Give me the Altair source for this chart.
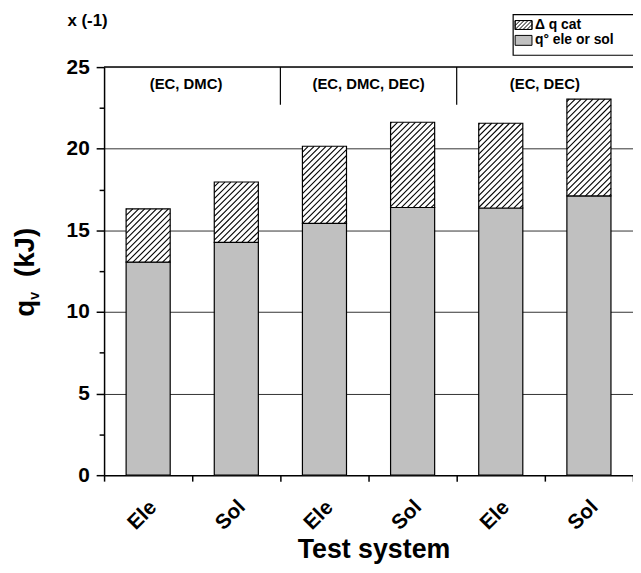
import math
import altair as alt
import pandas as pd

# ---- data ----
systems = ["Ele", "Sol", "Ele", "Sol", "Ele", "Sol"]
q_base = [13.05, 14.26, 15.43, 16.40, 16.37, 17.11]      # q° ele or sol
q_total = [16.32, 17.96, 20.15, 21.62, 21.56, 23.04]     # q° + Δq cat
groups = ["(EC, DMC)", "(EC, DMC, DEC)", "(EC, DEC)"]
group_centers = [0.93, 3.0, 5.0]
separators = [2, 4]
sep_bottom = 22.7
y_max = 25

W, H = 534, 412
sx = W / 6.0
sy = H / y_max
FONT = "Liberation Sans"

base_df = pd.DataFrame({
    "x": [i + 0.25 for i in range(6)],
    "x2": [i + 0.75 for i in range(6)],
    "y": [0.0] * 6,
    "y2": q_base,
})
cat_df = pd.DataFrame({
    "x": [i + 0.25 for i in range(6)],
    "x2": [i + 0.75 for i in range(6)],
    "y": q_base,
    "y2": q_total,
})
lab_df = pd.DataFrame({"x": [i + 0.5 for i in range(6)], "t": systems})

# hatch lines (45 degrees in pixel space) inside the Δq cat segments
step = 6.0
rows = []
for i in range(6):
    A = (i + 0.25) * sx
    B = (i + 0.75) * sx
    L = q_base[i] * sy
    T = q_total[i] * sy
    k0 = math.ceil((L - B) / step)
    k1 = math.floor((T - A) / step)
    for k in range(k0, k1 + 1):
        c = k * step
        xa = max(A, L - c)
        xb = min(B, T - c)
        if xb - xa > 0.4:
            rows.append({"x": xa / sx, "x2": xb / sx,
                         "y": (xa + c) / sy, "y2": (xb + c) / sy})
hatch_df = pd.DataFrame(rows)

x_axis = alt.Axis(
    values=list(range(7)),
    labels=False,
    tickSize=6, tickWidth=1.5, tickColor="black",
    domainColor="black", domainWidth=1.5, grid=False,
    title="Test system", titleFont=FONT, titleFontWeight="bold", titleFontSize=27,
    titleColor="black", titleBaseline="alphabetic", titleY=83, titleX=272,
)

y_axis = alt.Axis(
    values=[k * 2.5 for k in range(11)],
    labelExpr="datum.value % 5 == 0 ? datum.label : ''",
    tickSize={"condition": {"test": "datum.value % 5 == 0", "value": 8}, "value": 5},
    tickWidth=1.5, tickColor="black",
    labelFont=FONT, labelFontWeight="bold", labelFontSize=21, labelColor="black",
    labelPadding=7, labelFlush=False,
    domainColor="black", domainWidth=1.5,
    grid=True, gridColor="#333333", gridWidth=1,
    gridOpacity={"condition": {"test": "datum.value % 5 == 0 && datum.value > 0 && datum.value < 25",
                               "value": 1}, "value": 0},
    title=None,
)

xs = alt.Scale(domain=[0, 6], nice=False, zero=False)
ys = alt.Scale(domain=[0, y_max], nice=False)
X = alt.X("x:Q", scale=xs, axis=x_axis)
Y = alt.Y("y:Q", scale=ys, axis=y_axis)

base_bars = alt.Chart(base_df).mark_bar(fill="#c0c0c0", stroke="black", strokeWidth=1.2).encode(
    x=X, x2="x2:Q", y=Y, y2="y2:Q")

cat_fill = alt.Chart(cat_df).mark_bar(fill="white", strokeWidth=0).encode(
    x=X, x2="x2:Q", y=Y, y2="y2:Q")

hatch_lines = alt.Chart(hatch_df).mark_rule(color="black", strokeWidth=1.1).encode(
    x=X, x2="x2:Q", y=Y, y2="y2:Q")

cat_outline = alt.Chart(cat_df).mark_bar(fill="transparent", stroke="black", strokeWidth=1.2).encode(
    x=X, x2="x2:Q", y=Y, y2="y2:Q")

top_df = pd.DataFrame({"x": [0.0], "x2": [6.0], "y": [float(y_max)]})
top_line = alt.Chart(top_df).mark_rule(color="black", strokeWidth=1.5).encode(
    x=X, x2="x2:Q", y=Y)

sep_df = pd.DataFrame({"x": separators, "y": [float(y_max)] * len(separators),
                       "y2": [sep_bottom] * len(separators)})
sep_lines = alt.Chart(sep_df).mark_rule(color="black", strokeWidth=1.2).encode(
    x=X, y=Y, y2="y2:Q")

grp_df = pd.DataFrame({"x": group_centers, "t": groups})
grp_text = alt.Chart(grp_df).mark_text(font=FONT, fontWeight="bold", fontSize=15,
                                       color="black", baseline="middle").encode(
    x=X, y=alt.value(17), text="t:N")

x_labels = alt.Chart(lab_df).mark_text(font=FONT, fontWeight="bold", fontSize=21,
                                       color="black", align="center", angle=315,
                                       baseline="middle", dx=-8).encode(
    x=X, y=alt.value(H + 35), text="t:N")

one = pd.DataFrame({"d": [0]})


def txt(text, x, y, size, angle=0, align="left", baseline="alphabetic"):
    kw = dict(text=text, font=FONT, fontWeight="bold", fontSize=size, color="black",
              align=align, baseline=baseline)
    if angle:
        kw["angle"] = angle
    return alt.Chart(one).mark_text(**kw).encode(x=alt.value(x), y=alt.value(y))


def box(x, x2, y, y2, fill, stroke="black", sw=1):
    return alt.Chart(one).mark_rect(fill=fill, stroke=stroke, strokeWidth=sw).encode(
        x=alt.value(x), x2=alt.value(x2), y=alt.value(y), y2=alt.value(y2))


def seg(x, y, x2, y2):
    return alt.Chart(one).mark_rule(color="black", strokeWidth=1).encode(
        x=alt.value(x), x2=alt.value(x2), y=alt.value(y), y2=alt.value(y2))


# legend (pixel positions relative to plot origin)
sw_x0, sw_x1, sw_y0, sw_y1 = 415, 432, -47, -38
legend_layers = [box(413, 545, -53, -12, "white", sw=1.2)]
legend_layers.append(box(sw_x0, sw_x1, sw_y0, sw_y1, "white"))
for k in range(-3, 6):
    c = k * 4.0
    xa = max(sw_x0, sw_x0 - c)
    xb = min(sw_x1, sw_x0 + (sw_y1 - sw_y0) - c)
    if xb - xa > 0.5:
        legend_layers.append(seg(xa, sw_y1 - (xa - sw_x0) - c, xb, sw_y1 - (xb - sw_x0) - c))
legend_layers.append(box(sw_x0, sw_x1, sw_y0, sw_y1, "transparent"))
legend_layers.append(box(415, 432, -32, -22, "#c0c0c0"))
legend_layers.append(txt("Δ q cat", 435, -38, 14))
legend_layers.append(txt("q° ele or sol", 435, -23, 14))

# y-axis title q_v (kJ) and the x (-1) note
extra = [
    txt("q", -71, 252, 28, angle=270),
    txt("v", -66, 235, 14, angle=270),
    txt("(kJ)", -71, 212, 28, angle=270),
    txt("x (-1)", -37, -41, 17),
]

chart = alt.layer(
    base_bars, cat_fill, hatch_lines, cat_outline, top_line, sep_lines, grp_text, x_labels,
    *legend_layers, *extra,
).properties(
    width=W, height=H,
    autosize=alt.AutoSizeParams(type="none"),
    padding={"left": 97, "top": 57, "right": 0, "bottom": 88},
).configure_view(stroke=None).configure(background="white")

chart.save("out.html", embed_options={"renderer": "svg", "actions": False})
